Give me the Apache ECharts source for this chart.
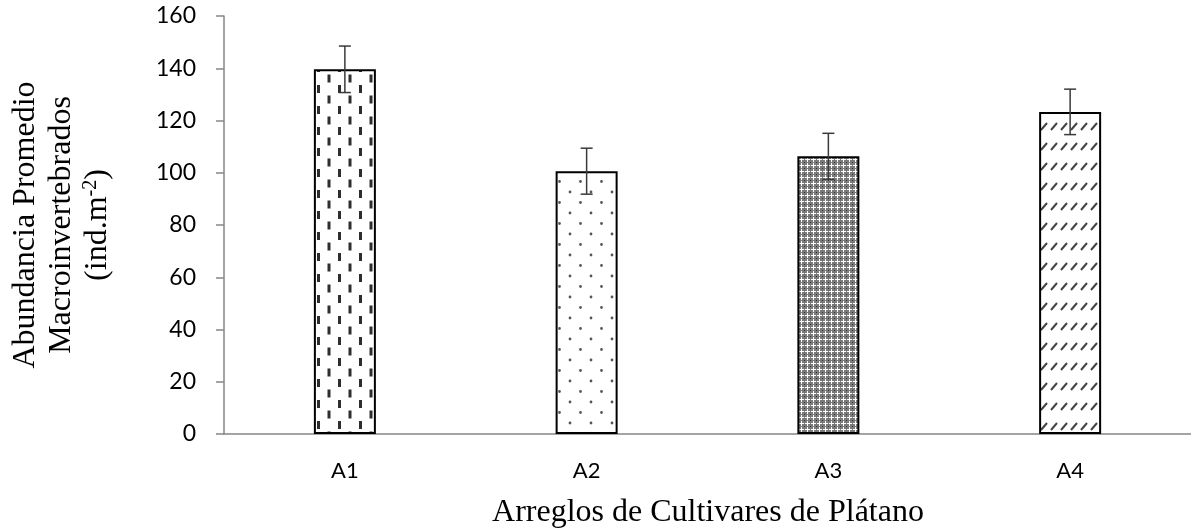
<!DOCTYPE html>
<html>
<head>
<meta charset="utf-8">
<script src="https://cdn.jsdelivr.net/npm/echarts@6/dist/echarts.min.js"></script>
<style>
  html, body { margin: 0; padding: 0; background: #fff; }
  #chart { width: 1191px; height: 531px; }
</style>
</head>
<body>
<div id="chart"></div>
<script>
const categories = ['A1', 'A2', 'A3', 'A4'];
const abundance = [139.6, 100.6, 106.3, 123.3];
const stdErrors = [8.9, 8.8, 8.8, 8.7];
const yTicks = { min: 0, max: 160, step: 20 };

// small canvas tiles used as fill patterns for each bar
const makeTile = (w, h, draw) => {
    const c = document.createElement('canvas');
    c.width = w;
    c.height = h;
    const ctx = c.getContext('2d');
    ctx.fillStyle = '#fff';
    ctx.fillRect(0, 0, w, h);
    draw(ctx);
    return c;
};

const dashTile = makeTile(21, 21, ctx => {
    ctx.fillStyle = '#2e2e2e';
    ctx.fillRect(2, 1, 3, 8);
    ctx.fillRect(12.5, 11.5, 3, 8);
});

const dotTile = makeTile(21, 21, ctx => {
    ctx.fillStyle = '#555';
    ctx.beginPath();
    ctx.arc(3, 3, 1.4, 0, Math.PI * 2);
    ctx.arc(13.5, 13.5, 1.4, 0, Math.PI * 2);
    ctx.fill();
});

const checkTile = makeTile(6, 6, ctx => {
    ctx.fillStyle = '#7a7a7a';
    ctx.fillRect(0, 0, 6, 6);
    ctx.fillStyle = '#fff';
    ctx.fillRect(3, 1, 1, 5);
    ctx.fillRect(1, 3, 5, 1);
    ctx.fillStyle = '#333';
    ctx.fillRect(0, 0, 1, 1);
});

const slashTile = makeTile(10, 20, ctx => {
    ctx.strokeStyle = '#444';
    ctx.lineWidth = 2;
    ctx.beginPath();
    ctx.moveTo(1, 10);
    ctx.lineTo(7, 3);
    ctx.stroke();
});

const tiles = [dashTile, dotTile, checkTile, slashTile];

const chartElement = document.getElementById('chart');
const chartInstance = echarts.init(chartElement);

const barData = abundance.map((v, i) => ({
    value: v,
    itemStyle: { color: { image: tiles[i], repeat: 'repeat' } }
}));

const errData = abundance.map((v, i) => [i, v - stdErrors[i], v + stdErrors[i]]);

const options = {
    animation: false,
    grid: { left: 218, top: 16, bottom: 97, width: 981 },
    xAxis: {
        type: 'category',
        data: categories,
        axisLine: { lineStyle: { color: '#868686', width: 1.5 } },
        axisTick: { show: false },
        axisLabel: { color: '#000', fontFamily: 'Lato', fontSize: 22, margin: 26 }
    },
    yAxis: {
        type: 'value',
        min: yTicks.min,
        max: yTicks.max,
        interval: yTicks.step,
        name: '{a|Abundancia Promedio}\n{a|Macroinvertebrados}\n{a|(ind.m}{s|-2}{a|)}',
        nameLocation: 'middle',
        nameRotate: 90,
        nameGap: 108,
        nameTextStyle: {
            lineHeight: 36,
            rich: {
                a: { fontFamily: 'Liberation Serif', fontSize: 32, color: '#000', lineHeight: 36 },
                s: { fontFamily: 'Liberation Serif', fontSize: 20, color: '#000', lineHeight: 36, padding: [0, 0, 14, 0] }
            }
        },
        axisLine: { show: true, lineStyle: { color: '#868686', width: 1.5 } },
        axisTick: { show: true, length: 8, lineStyle: { color: '#868686', width: 1.5 } },
        axisLabel: { color: '#000', fontFamily: 'Lato', fontSize: 23, margin: 28 },
        splitLine: { show: false }
    },
    graphic: [
        {
            type: 'text',
            x: 708,
            y: 497,
            style: {
                text: 'Arreglos de Cultivares de Plátano',
                font: '32px "Liberation Serif"',
                fill: '#000',
                textAlign: 'center',
                textVerticalAlign: 'top'
            }
        }
    ],
    series: [
        {
            type: 'bar',
            data: barData,
            barWidth: 62,
            itemStyle: { borderColor: '#000', borderWidth: 2 }
        },
        {
            type: 'custom',
            data: errData,
            z: 5,
            renderItem: (params, api) => {
                const lo = api.coord([api.value(0), api.value(1)]);
                const hi = api.coord([api.value(0), api.value(2)]);
                const cap = 6;
                const style = { stroke: '#3a3a3a', lineWidth: 1.5 };
                return {
                    type: 'group',
                    children: [
                        { type: 'line', shape: { x1: hi[0], y1: hi[1], x2: lo[0], y2: lo[1] }, style },
                        { type: 'line', shape: { x1: hi[0] - cap, y1: hi[1], x2: hi[0] + cap, y2: hi[1] }, style },
                        { type: 'line', shape: { x1: lo[0] - cap, y1: lo[1], x2: lo[0] + cap, y2: lo[1] }, style }
                    ]
                };
            }
        }
    ]
};

chartInstance.setOption(options);
</script>
</body>
</html>
